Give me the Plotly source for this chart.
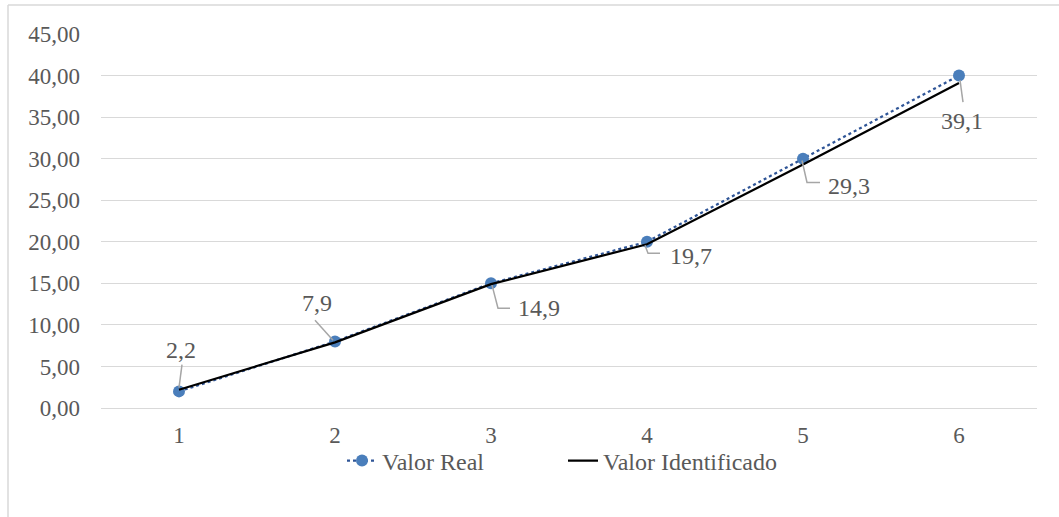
import plotly.graph_objects as go

# ---- data ----
categories = [1, 2, 3, 4, 5, 6]
valor_real = [2, 8, 15, 20, 30, 40]
valor_identificado = [2.2, 7.9, 14.9, 19.7, 29.3, 39.1]
y_ticks = [0, 5, 10, 15, 20, 25, 30, 35, 40, 45]

# ---- label styling (pixel offsets relative to each point) ----
label_offsets = [(2, 40), (-18, 39), (48, -24), (44, -12), (46, -22), (3, -38)]
leader_paths = [
    "M 3 25 L 0 2",
    "M -20 22 L -2 2",
    "M 1 -1 L 7 -24 L 19 -24",
    "M -2 -1 L 1 -9 L 13 -9",
    "M -1 4 L 4 -18 L 17 -18",
    "M 1 3 L 4 -19",
]

FONT = "'Liberation Serif', 'Times New Roman', Times, serif"
TXT = "#595959"
GRID = "#d9d9d9"

W, H = 1059, 517
L, R, T, B = 101, 22, 34, 109
pw, ph = W - L - R, H - T - B

fig = go.Figure()
fig.add_trace(go.Scatter(
    x=categories, y=valor_real, name="Valor Real", mode="lines+markers",
    line=dict(color="#2F5597", width=2.25, dash="dot"),
    marker=dict(symbol="circle", size=12, color="#4A7EBB"),
))
fig.add_trace(go.Scatter(
    x=categories, y=valor_identificado, name="Valor Identificado", mode="lines",
    line=dict(color="#000000", width=2.25),
))

annotations = []
shapes = []
for c, v, (dx, dy), p in zip(categories, valor_identificado, label_offsets, leader_paths):
    annotations.append(dict(
        x=c, y=v, xref="x", yref="y", text=f"{v}".replace(".", ","),
        showarrow=False, xshift=dx, yshift=dy,
        font=dict(family=FONT, size=24, color=TXT),
    ))
    shapes.append(dict(
        type="path", xref="x", yref="y", xsizemode="pixel", ysizemode="pixel",
        xanchor=c, yanchor=v, path=p, line=dict(color="#a6a6a6", width=1.5),
    ))

# outer chart border (left and top visible)
bx = (8 - L) / pw
by = 1 + (T - 5) / ph
shapes.append(dict(type="line", xref="paper", yref="paper", x0=bx, x1=bx, y0=-0.35, y1=by,
                   line=dict(color=GRID, width=1.5)))
shapes.append(dict(type="line", xref="paper", yref="paper", x0=bx, x1=1.05, y0=by, y1=by,
                   line=dict(color=GRID, width=1.5)))

fig.update_layout(
    width=W, height=H,
    margin=dict(l=L, r=R, t=T, b=B),
    paper_bgcolor="white", plot_bgcolor="white",
    separators=",.",
    font=dict(family=FONT, size=23, color=TXT),
    showlegend=True,
    legend=dict(orientation="h", x=(563 - L) / pw, xanchor="center", y=(408 - 461) / ph, yanchor="middle",
                font=dict(family=FONT, size=24, color=TXT), entrywidth=176,
                bgcolor="rgba(0,0,0,0)"),
    annotations=annotations,
    shapes=shapes,
)
fig.update_xaxes(
    type="linear", range=[0.5, 6.5], tickvals=categories, ticktext=[str(c) for c in categories],
    showgrid=False, zeroline=False, showline=True, linecolor=GRID, linewidth=1,
    ticks="", ticklabelstandoff=6, tickfont=dict(family=FONT, size=23, color=TXT),
)
fig.update_yaxes(
    range=[0, 45], tickvals=y_ticks, tickformat=".2f",
    showgrid=True, gridcolor=GRID, gridwidth=1, zeroline=False, showline=False,
    ticks="", ticklabelstandoff=20, tickfont=dict(family=FONT, size=23, color=TXT),
)

fig.write_html("out.html", config={"displayModeBar": False},
               post_script="document.body.style.margin='0';")
